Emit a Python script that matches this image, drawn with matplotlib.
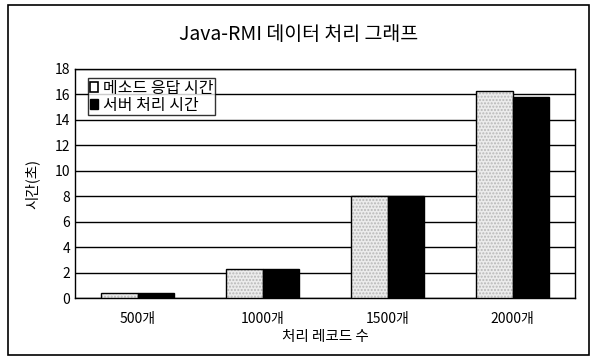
import matplotlib
matplotlib.use("Agg")
import matplotlib.pyplot as plt
import numpy as np
from matplotlib.patches import Rectangle, Patch

plt.rcParams['font.family'] = ['Noto Sans CJK KR', 'DejaVu Sans']

categories = ['500개', '1000개', '1500개', '2000개']
method_response = [0.4, 2.3, 8.0, 16.3]
server_process = [0.4, 2.3, 8.0, 15.8]
series_names = ['메소드 응답 시간', '서버 처리 시간']
title = 'Java-RMI 데이터 처리 그래프'
xlabel = '처리 레코드 수'
ylabel = '시간(초)'
yticks = [0, 2, 4, 6, 8, 10, 12, 14, 16, 18]

fig = plt.figure(figsize=(5.97, 3.57), dpi=100)
ax = fig.add_axes([75/597, 1-298/357, 500/597, 229/357])

x = np.arange(len(categories))
w = 0.29
# stippled light fill
ax.bar(x - w/2, method_response, w, color='#ececec', edgecolor='#b8b8b8',
       linewidth=0, hatch='.....', zorder=3)
# outline
ax.bar(x - w/2, method_response, w, fill=False, edgecolor='black',
       linewidth=1.0, zorder=4)
ax.bar(x + w/2, server_process, w, color='black', edgecolor='black',
       linewidth=1.0, zorder=3)

ax.set_ylim(0, 18)
ax.set_xlim(-0.5, 3.5)
ax.set_yticks(yticks)
ax.set_xticks(x)
ax.set_xticklabels(categories)
ax.tick_params(axis='both', length=0, labelsize=10)
ax.tick_params(axis='x', pad=10)
ax.yaxis.grid(True, color='black', linewidth=1.0, zorder=0)
ax.set_axisbelow(True)
for s in ax.spines.values():
    s.set_color('black')
    s.set_linewidth(1.0)

ax.set_xlabel(xlabel, fontsize=10.5, labelpad=3)
ax.set_ylabel(ylabel, fontsize=10.5, labelpad=11)

fig.text(0.5, 1-35/357, title, ha='center', va='center', fontsize=14, fontweight='light')

handles = [Patch(facecolor='white', edgecolor='black', linewidth=1.2),
           Patch(facecolor='black', edgecolor='black')]
leg = ax.legend(handles, series_names, loc='upper left', bbox_to_anchor=(0.026, 0.96),
                frameon=True, fancybox=False, edgecolor='black', fontsize=11.5,
                handlelength=0.55, handleheight=0.55, handletextpad=0.3, borderpad=0.1,
                labelspacing=0.0, borderaxespad=0)
leg.get_frame().set_linewidth(1.0)
leg.set_zorder(5)

fig.patches.append(Rectangle((8/597, 1-355/357), 581/597, 350/357,
                             transform=fig.transFigure, fill=False,
                             edgecolor='black', linewidth=1.2))

fig.savefig('out.png', dpi=100)
